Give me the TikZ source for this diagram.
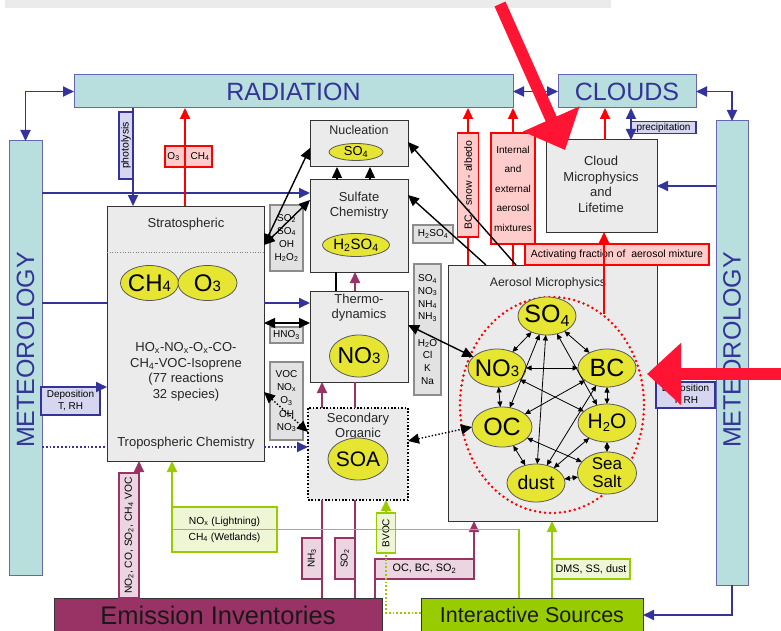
\documentclass[tikz,border=0pt]{standalone}
\usepackage{fontspec}
\setmainfont{Liberation Sans}
\usetikzlibrary{arrows.meta,shapes.geometric,calc}
\definecolor{cyanbox}{HTML}{B8DFDE}
\definecolor{bluedk}{HTML}{333399}
\definecolor{boxgray}{HTML}{EBEBEB}
\definecolor{yel}{HTML}{E5E532}
\definecolor{pinkf}{HTML}{FFCCCC}
\definecolor{purp}{HTML}{993366}
\definecolor{purpf}{HTML}{EBD5E0}
\definecolor{grn}{HTML}{99CC00}
\definecolor{grnf}{HTML}{EFF6D6}
\definecolor{lav}{HTML}{D6D6F0}
\definecolor{annot}{HTML}{FF1433}
\definecolor{lblgray}{HTML}{E2E2E2}
\definecolor{lblborder}{HTML}{8C8C8C}
\newcommand{\fsz}[1]{\fontsize{#1}{#1}\selectfont}
\newcommand{\sbs}[1]{\textsubscript{#1}}
\tikzset{
 base/.style={inner sep=0pt, outer sep=0pt},
 cyanrect/.style={base, rectangle, draw=bluedk!75, fill=cyanbox, line width=1pt},
 grayrect/.style={base, rectangle, draw=black!80, fill=boxgray, line width=1pt},
 yellip/.style={base, ellipse, draw=black!65, fill=yel, line width=0.8pt},
 txt/.style={base, align=center, text=black!85},
 lavlbl/.style={base, rectangle, draw=bluedk, fill=lav, line width=1.3pt, font=\fsz{10}, align=center},
 redlbl/.style={base, rectangle, draw=red, fill=pinkf, line width=1.5pt, font=\fsz{10}, align=center},
 purlbl/.style={base, rectangle, draw=purp, fill=purpf, line width=1.5pt, font=\fsz{10}, align=center},
 grnlbl/.style={base, rectangle, draw=grn, fill=grnf, line width=1.5pt, font=\fsz{10}, align=center},
 graylbl/.style={base, rectangle, draw=lblborder, fill=lblgray, line width=1.8pt, font=\fsz{10}, align=center},
 barrow/.style={draw=bluedk, line width=1.8pt, ->},
 bline/.style={draw=bluedk, line width=1.8pt},
 bboth/.style={draw=bluedk, line width=1.8pt, <->},
 bdot/.style={draw=bluedk, line width=1.8pt, dotted},
 rarrow/.style={draw=red, line width=1.8pt, ->},
 rline/.style={draw=red, line width=1.8pt},
 parrow/.style={draw=purp, line width=1.8pt, ->},
 pline/.style={draw=purp, line width=1.8pt},
 garrow/.style={draw=grn, line width=1.8pt, ->},
 gdot/.style={draw=grn, line width=1.8pt, dotted},
 karrow/.style={draw=black, line width=1.4pt, ->},
 kboth/.style={draw=black, line width=1.4pt, <->},
 kline/.style={draw=black, line width=1.4pt},
 ksmall/.style={draw=black, line width=0.8pt, {Triangle[length=5.5pt,width=5pt]}-{Triangle[length=5.5pt,width=5pt]}},
 annotarrow/.style={draw=annot, line width=12pt, -{Triangle[length=34pt,width=60pt]}}
}
\begin{document}
\begin{tikzpicture}[x=1pt,y=-1pt,>={Triangle[length=11pt,width=10pt]}]
\useasboundingbox (0,0) rectangle (781,631);
\clip (0,0) rectangle (781,631);
\fill[white] (0,0) rectangle (781,631);

% ---------- big boxes ----------
\node[base, fill=boxgray, minimum width=606pt, minimum height=8pt] (topbar) at (308,4) {};
\node[cyanrect, minimum width=439pt, minimum height=33pt, text=bluedk, font=\fsz{25}] (rad) at (293.5,91.5) {RADIATION};
\node[cyanrect, minimum width=138pt, minimum height=33pt, text=bluedk, font=\fsz{25}] (clouds) at (627,91.5) {CLOUDS};
\node[cyanrect, minimum width=33pt, minimum height=434pt] (metL) at (25.5,358) {};
\node[base, rotate=90, text=bluedk, font=\fsz{25}] (metLt) at (25.5,350) {METEOROLOGY};
\node[cyanrect, minimum width=32pt, minimum height=464pt] (metR) at (732,353) {};
\node[base, rotate=90, text=bluedk, font=\fsz{25}] (metRt) at (732,350) {METEOROLOGY};

\node[grayrect, minimum width=157pt, minimum height=255pt] (trop) at (185.5,333.5) {};
\node[grayrect, minimum width=98pt, minimum height=46pt] (nucl) at (359,144) {};
\node[grayrect, minimum width=98pt, minimum height=92pt] (sulf) at (359,226) {};
\node[grayrect, minimum width=98pt, minimum height=91pt] (thermo) at (359,336.5) {};
\node[grayrect, draw=black, dash pattern=on 1.6pt off 1.8pt, line width=1.6pt, minimum width=100pt, minimum height=92pt] (soa) at (358,454) {};
\node[grayrect, minimum width=209pt, minimum height=256pt] (aero) at (552.5,393) {};
\node[grayrect, minimum width=111pt, minimum height=92pt] (cloudmp) at (601.5,186) {};
\node[base, draw=black!80, fill=purp, line width=1pt, minimum width=328pt, minimum height=34pt, text=black!90, font=\fsz{25.5}] (emis) at (218,615) {Emission Inventories};
\node[base, draw=black!80, fill=grn, line width=1pt, minimum width=222pt, minimum height=34pt, text=black!90, font=\fsz{21.5}] (inter) at (532,615) {Interactive Sources};

% ---------- texts inside boxes ----------
\node[txt, font=\fsz{13}] (stratT) at (186,224) {Stratospheric};
\draw[black!50, dotted, line width=0.6pt] (trop.west |- 0,252) -- (trop.east |- 0,252);
\node[txt, font=\fontsize{13}{15.5}\selectfont] (chemT) at (186,372) {HO\sbs{x}-NO\sbs{x}-O\sbs{x}-CO-\\CH\sbs{4}-VOC-Isoprene\\(77 reactions\\32 species)};
\node[txt, font=\fsz{13}] (tropT) at (186,443) {Tropospheric Chemistry};
\node[txt, font=\fsz{12.5}] (nuclT) at (359,130) {Nucleation};
\node[txt, font=\fontsize{13}{15}\selectfont] (sulfT) at (359,205.5) {Sulfate\\Chemistry};
\node[txt, font=\fontsize{13}{15}\selectfont] (thermoT) at (359,307.5) {Thermo-\\dynamics};
\node[txt, font=\fontsize{13}{15}\selectfont] (soaT) at (358,426.5) {Secondary\\Organic};
\node[txt, font=\fsz{12.3}] (aeroT) at (548,283) {Aerosol Microphysics};
\node[txt, font=\fontsize{13}{15.7}\selectfont] (cloudT) at (601,184.5) {Cloud\\Microphysics\\and\\Lifetime};

% ---------- yellow ellipses ----------
\node[yellip, minimum width=58pt, minimum height=35pt] (ch4) at (149.5,283) {};
\node[txt, text=black, font=\fsz{24}] (ch4t) at (ch4) {CH{\fsz{15}4}};
\node[yellip, minimum width=59pt, minimum height=35pt] (o3) at (207.5,283) {};
\node[txt, text=black, font=\fsz{24}] (o3t) at (o3) {O{\fsz{15}3}};
\node[yellip, minimum width=54pt, minimum height=17pt] (nso4) at (356,152) {};
\node[txt, text=black, font=\fsz{13}] (nso4t) at (nso4) {SO\sbs{4}};
\node[yellip, minimum width=67pt, minimum height=23pt] (h2so4) at (356,245) {};
\node[txt, text=black, font=\fsz{15}] (h2so4t) at (h2so4) {H\sbs{2}SO\sbs{4}};
\node[yellip, minimum width=59pt, minimum height=42pt] (tno3) at (359,356) {};
\node[txt, text=black, font=\fsz{23}] (tno3t) at (tno3) {NO{\fsz{15}3}};
\node[yellip, minimum width=60pt, minimum height=42pt] (soae) at (358,459) {};
\node[txt, text=black, font=\fsz{21}] (soaet) at (soae) {SOA};

\node[base, ellipse, draw=red, line width=2.8pt, dash pattern=on 0pt off 5pt, line cap=round, minimum width=184pt, minimum height=216pt] (redell) at (552,405) {};
\node[yellip, minimum width=58pt, minimum height=38pt] (aSO4) at (547,316) {};
\node[txt, text=black, font=\fsz{25}] (aSO4t) at (aSO4) {SO\raisebox{-4pt}{\fsz{16}4}};
\node[yellip, minimum width=58pt, minimum height=38pt] (aNO3) at (497,368) {};
\node[txt, text=black, font=\fsz{24}] (aNO3t) at (aNO3) {NO{\fsz{15}3}};
\node[yellip, minimum width=58pt, minimum height=38pt] (aBC) at (607,368) {};
\node[txt, text=black, font=\fsz{25}] (aBCt) at (aBC) {BC};
\node[yellip, minimum width=60pt, minimum height=40pt] (aOC) at (502,427) {};
\node[txt, text=black, font=\fsz{25}] (aOCt) at (aOC) {OC};
\node[yellip, minimum width=58pt, minimum height=38pt] (aH2O) at (607,423) {};
\node[txt, text=black, font=\fsz{21}] (aH2Ot) at (aH2O) {H\raisebox{-3pt}{\fsz{13}2}O};
\node[yellip, minimum width=58pt, minimum height=38pt] (aDust) at (536,483) {};
\node[txt, text=black, font=\fsz{19.5}] (aDustt) at (aDust) {dust};
\node[yellip, minimum width=59pt, minimum height=42pt] (aSea) at (607,473) {};
\node[txt, text=black, font=\fontsize{17}{18}\selectfont] (aSeat) at (aSea) {Sea\\Salt};

% ---------- labels ----------
\node[lavlbl, rotate=90, minimum width=67pt, minimum height=14pt, font=\fsz{10.5}] (phot) at (126,145.5) {photolysis};
\node[redlbl, minimum width=47pt, minimum height=21pt] (o3lbl) at (188.5,156.5) {O\sbs{3}\hspace{11pt}CH\sbs{4}};
\node[lavlbl, minimum width=59pt, minimum height=28pt, font=\fontsize{10}{12}\selectfont] (depL) at (70.5,401) {Deposition\\T, RH};
\node[lavlbl, minimum width=59pt, minimum height=26pt, font=\fontsize{10}{12}\selectfont] (depR) at (685.5,395) {Deposition\\T, RH};
\node[lavlbl, minimum width=65pt, minimum height=12pt] (precip) at (663.5,127.5) {precipitation};
\node[redlbl, rotate=90, minimum width=104pt, minimum height=21pt, font=\fsz{10.5}] (bcsnow) at (468,185) {BC - snow - albedo};
\node[redlbl, minimum width=44pt, minimum height=111pt, font=\fontsize{10}{19.5}\selectfont] (intext) at (513,188.5) {Internal\\and\\external\\aerosol\\mixtures};
\node[redlbl, minimum width=184pt, minimum height=21pt, font=\fsz{10.5}] (activ) at (617,254.5) {Activating fraction of\ \ aerosol mixture};
\node[graylbl, minimum width=40pt, minimum height=18pt] (h2so4l) at (433,234) {H\sbs{2}SO\sbs{4}};
\node[graylbl, minimum width=27pt, minimum height=131pt, font=\fontsize{10}{12.6}\selectfont] (specR) at (427.5,329.5) {SO\sbs{4}\\NO\sbs{3}\\NH\sbs{4}\\NH\sbs{3}\\[14pt]H\sbs{2}O\\Cl\\K\\Na};
\node[graylbl, minimum width=33pt, minimum height=66pt, font=\fontsize{10}{13}\selectfont] (specL) at (286.5,238) {SO\sbs{2}\\SO\sbs{4}\\OH\\H\sbs{2}O\sbs{2}};
\node[graylbl, minimum width=33pt, minimum height=16pt] (hno3l) at (286.5,335) {HNO\sbs{3}};
\node[graylbl, minimum width=33pt, minimum height=78pt, font=\fontsize{10}{13.3}\selectfont] (vocl) at (286.5,401) {VOC\\NO\sbs{x}\\O\sbs{3}\\OH\\NO\sbs{3}};
\node[purlbl, rotate=90, minimum width=125pt, minimum height=20pt, font=\fsz{10.3}] (emisl) at (129,535.5) {NO\sbs{2}, CO, SO\sbs{2}, CH\sbs{4} VOC};
\node[grnlbl, minimum width=105pt, minimum height=45pt, font=\fontsize{10.3}{16}\selectfont] (noxl) at (224.5,529.5) {NO\sbs{x} (Lightning)\\CH\sbs{4} (Wetlands)};
\node[purlbl, rotate=90, minimum width=41pt, minimum height=20pt] (nh3l) at (312,558.5) {NH\sbs{3}};
\node[purlbl, rotate=90, minimum width=41pt, minimum height=20pt] (so2l) at (345,558.5) {SO\sbs{2}};
\node[grnlbl, rotate=90, minimum width=40pt, minimum height=19pt] (bvocl) at (386,533) {BVOC};
\node[purlbl, minimum width=99pt, minimum height=20pt, font=\fsz{10.8}] (ocbcl) at (424.5,569) {OC, BC, SO\sbs{2}};
\node[grnlbl, minimum width=78pt, minimum height=20pt, font=\fsz{10.8}] (dmsl) at (591,569) {DMS, SS, dust};

% ---------- blue connectors ----------
\draw[bboth] (rad.west) -| (metL.north);
\draw[bboth] (rad.east) -- (clouds.west);
\draw[bboth] (clouds.east) -| (metR.north);
\draw[barrow] (metR.south) |- (inter.east);
\draw[barrow] (rad.south -| 133,0) -- (trop.north -| 133,0);
\draw[barrow] (metL.east |- 0,193) -- (sulf.west |- 0,193);
\draw[bline] (metL.east |- 0,303) -- (trop.west |- 0,303);
\draw[barrow] (trop.east |- 0,303) -- (thermo.west |- 0,303);
\draw[barrow] (depL.north west) -- (trop.west |- depL.north);
\draw[bdot] (metL.east |- 0,447) -- (trop.west |- 0,447);
\draw[bdot, ->] (trop.east |- 0,447) -- (soa.west |- 0,447);
\draw[barrow] (metR.west |- cloudmp.east) -- (cloudmp.east);
\draw[bboth] (clouds.south -| 631,0) -- (cloudmp.north -| 631,0);

% ---------- red connectors ----------
\draw[rarrow] (trop.north -| 185,0) -- (rad.south -| 185,0);
\draw[rarrow] (bcsnow.east) -- (rad.south -| bcsnow.east);
\draw[rline] (aero.north -| bcsnow.center) -- (bcsnow.west);
\draw[rarrow] (intext.north) -- (rad.south -| intext.north);
\draw[rline] (aero.north -| intext.south) -- (intext.south);
\draw[rarrow] (cloudmp.north -| 605,0) -- (clouds.south -| 605,0);
\coordinate (actop) at (604,314);
\draw[rarrow] (actop) -- (cloudmp.south -| actop);

% ---------- purple connectors ----------
\draw[parrow] (emis.north -| 139,0) -- (trop.south -| 139,0);
\draw[pline] (emis.north -| 322,0) -- (soa.south -| 322,0);
\draw[parrow] (soa.north -| 322,0) -- (thermo.south -| 322,0);
\draw[pline] (emis.north -| 355,0) -- (soa.south -| 355,0);
\draw[pline] (soa.north -| 355,0) -- (thermo.south -| 355,0);
\draw[parrow] (thermo.north -| 355,0) -- (sulf.south -| 355,0);
\draw[parrow] (emis.north -| ocbcl.west) -- (ocbcl.north west) -- (ocbcl.north east) -- (aero.south -| ocbcl.east);

% ---------- green connectors ----------
\draw[garrow] (inter.north -| 519,0) |- (noxl.west) -- (trop.south -| noxl.west);
\draw[gdot] (inter.west |- 0,613) -| (bvocl.west);
\draw[garrow] (bvocl.east) -- (soa.south -| bvocl.east);
\draw[garrow] (inter.north -| dmsl.west) -- (aero.south -| dmsl.west);

% ---------- black connectors ----------
\draw[kline] (sulf.south -| 336,0) -- (thermo.north -| 336,0);
\draw[kboth] (trop.east |- 0,245) -- (nucl.west |- 0,148);
\draw[kboth] (trop.east |- 0,245) -- (sulf.west |- 0,200);
\draw[karrow] (aero.north -| 516,0) -- (nucl.east |- 0,142);
\draw[karrow] (aero.north -| 486,0) -- (sulf.east |- 0,195);
\draw[karrow] (sulf.north -| 337,0) -- (nucl.south -| 337,0);
\draw[karrow] (sulf.north -| 370,0) -- (nucl.south -| 370,0);
\draw[kboth] (trop.east |- 0,323) -- (thermo.west |- 0,323);
\draw[kboth, dotted] (trop.east |- 0,392) -- (soa.west |- 0,432);
\draw[kboth] (thermo.east |- 0,325) -- (aNO3.155);
\draw[kboth, dotted] (soa.east |- 0,441) -- (aOC.west);

% ---------- aerosol interactions ----------
\draw[ksmall] (aSO4) -- (aNO3);
\draw[ksmall] (aSO4) -- (aBC);
\draw[ksmall] (aSO4) -- (aOC);
\draw[ksmall] (aSO4) -- (aDust);
\draw[ksmall] (aSO4) -- (aH2O);
\draw[ksmall] (aNO3) -- (aBC);
\draw[ksmall] (aNO3) -- (aOC);
\draw[ksmall] (aNO3) -- (aH2O);
\draw[ksmall] (aBC) -- (aH2O);
\draw[ksmall] (aBC) -- (aOC);
\draw[ksmall] (aBC) -- (aDust);
\draw[ksmall] (aOC) -- (aDust);
\draw[ksmall] (aOC) -- (aSea);
\draw[ksmall] (aH2O) -- (aDust);
\draw[ksmall] (aH2O) -- (aSea);
\draw[ksmall] (aDust) -- (aSea);

% ---------- annotation arrows ----------
\coordinate (a1s) at (500,4);
\coordinate (a1e) at (565,150);
\draw[annotarrow] (a1s) -- (a1e);
\coordinate (a2s) at (790,374);
\coordinate (a2e) at (647,374);
\draw[annotarrow] (a2s) -- (a2e);
\end{tikzpicture}
\end{document}
